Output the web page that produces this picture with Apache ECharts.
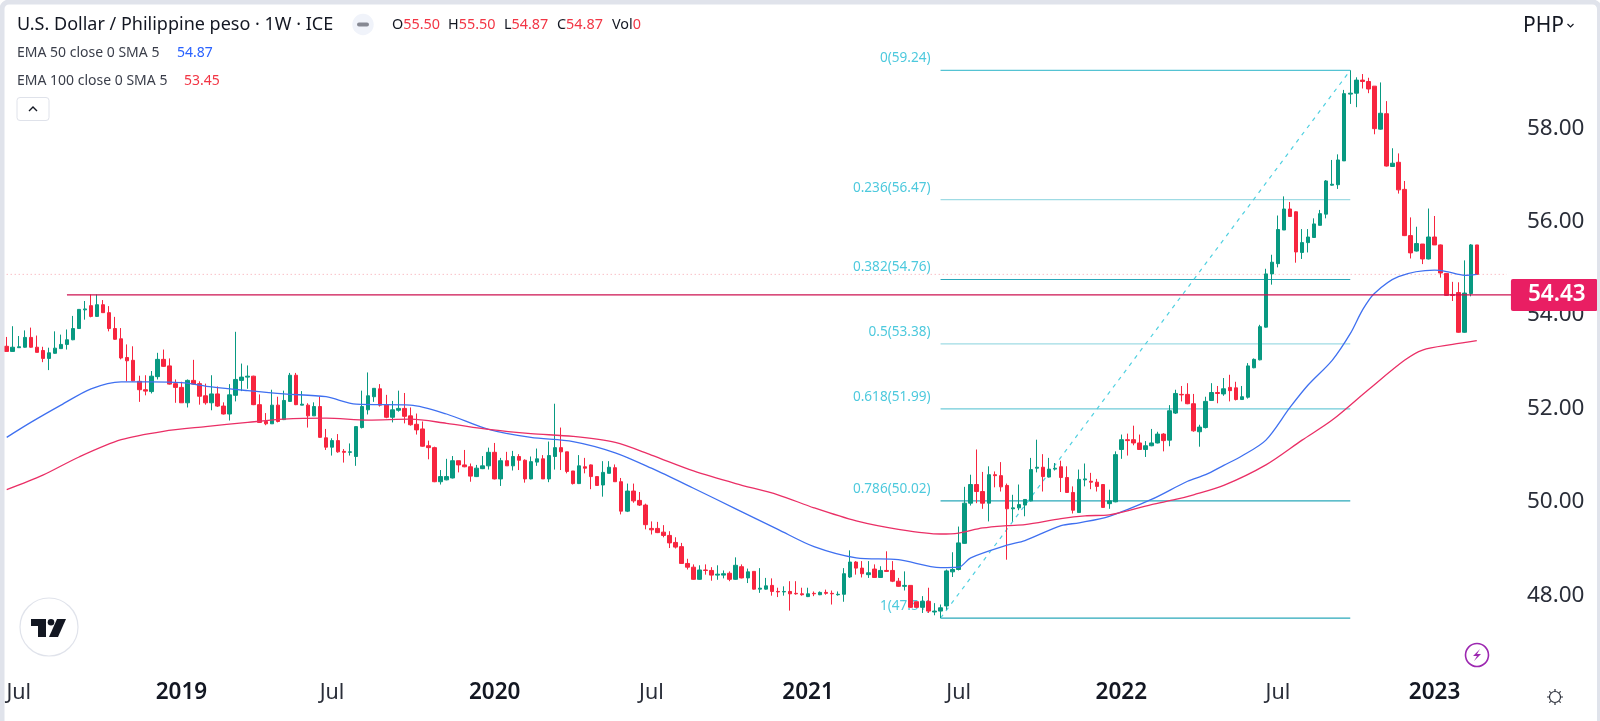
<!DOCTYPE html>
<html>
<head>
<meta charset="utf-8">
<style>html,body{margin:0;padding:0;background:#fff;overflow:hidden}#c{width:1600px;height:721px}</style>
<script src="https://cdn.jsdelivr.net/npm/echarts@6/dist/echarts.min.js"></script>
</head>
<body>
<div id="c"></div>
<script>
const open = [
53.33,53.22,53.30,53.31,53.52,53.31,53.24,53.07,53.18,53.28,
53.37,53.47,53.71,54.11,54.20,53.97,54.22,54.05,53.71,53.49,
53.09,53.03,52.58,52.40,52.36,52.68,53.05,52.91,52.53,52.45,
52.12,52.60,52.53,52.27,52.12,52.31,52.05,51.88,52.28,52.60,
52.67,52.69,52.08,51.72,51.67,52.07,51.76,52.15,52.71,52.07,
52.07,51.84,52.04,51.37,51.17,51.31,51.08,51.06,50.97,51.59,
51.97,52.25,52.42,52.08,51.81,51.96,52.00,51.84,51.66,51.56,
51.20,51.16,50.43,50.47,50.51,50.88,50.79,50.75,50.54,50.71,
50.77,51.06,50.49,50.88,50.77,50.97,50.89,50.49,50.85,50.92,
50.49,50.97,51.16,51.07,50.66,50.39,50.75,50.79,50.54,50.36,
50.61,50.73,50.43,49.80,50.23,50.03,49.93,49.43,49.43,49.35,
49.28,49.13,49.04,48.68,48.60,48.34,48.54,48.53,48.43,48.43,
48.47,48.34,48.61,48.37,48.51,48.13,48.13,48.21,48.08,48.07,
48.08,48.04,48.03,47.97,48.04,48.01,48.06,48.04,48.01,48.02,
48.39,48.71,48.58,48.44,48.56,48.38,48.53,48.53,48.30,48.19,
48.21,47.86,47.74,47.87,47.64,47.66,47.77,48.50,48.55,49.11,
49.97,50.37,50.22,49.97,50.58,50.56,50.35,49.85,49.87,49.93,
50.02,50.72,50.74,50.53,50.70,50.75,50.52,50.20,49.77,50.47,
50.44,50.42,50.37,49.96,50.00,51.12,51.33,51.33,51.26,51.12,
51.20,51.26,51.45,51.32,51.90,52.30,52.30,52.10,51.50,51.59,
52.17,52.34,52.31,52.45,52.44,52.19,52.24,52.87,53.04,53.74,
54.88,55.10,55.82,56.27,56.21,55.34,55.55,55.66,55.92,56.16,
56.78,56.79,57.30,58.73,58.75,59.03,59.00,58.90,57.98,58.31,
57.18,57.27,56.69,55.70,55.37,55.52,55.20,55.67,55.50,54.89,
54.44,54.48,53.63,54.46,55.50];
const close = [
53.22,53.31,53.32,53.52,53.31,53.20,53.07,53.19,53.29,53.37,
53.47,53.71,54.12,54.13,53.97,54.22,54.05,53.71,53.48,53.08,
53.02,52.59,52.40,52.37,52.69,53.05,52.90,52.52,52.45,52.12,
52.60,52.52,52.26,52.12,52.31,52.05,51.88,52.29,52.62,52.67,
52.69,52.08,51.70,51.67,52.07,51.72,52.17,52.71,52.08,52.09,
51.84,52.04,51.38,51.17,51.31,51.07,51.06,51.07,51.61,52.04,
52.27,52.43,52.07,51.81,51.97,52.00,51.83,51.65,51.54,51.19,
51.16,50.43,50.54,50.54,50.88,50.79,50.75,50.55,50.72,50.77,
51.06,50.49,50.88,50.77,50.97,50.89,50.49,50.86,50.92,50.49,
50.99,51.16,51.07,50.65,50.39,50.77,50.72,50.54,50.35,50.63,
50.74,50.43,49.80,50.23,50.02,49.93,49.51,49.40,49.34,49.28,
49.12,49.03,48.68,48.60,48.34,48.54,48.53,48.43,48.45,48.46,
48.34,48.64,48.37,48.50,48.13,48.15,48.20,48.08,48.07,48.08,
48.03,48.03,48.01,48.03,48.03,48.06,48.04,48.03,48.02,48.46,
48.71,48.58,48.46,48.48,48.38,48.53,48.51,48.30,48.19,48.21,
47.74,47.74,47.87,47.66,47.66,47.73,48.52,48.55,49.12,49.97,
50.37,50.22,49.97,50.58,50.56,50.32,49.85,49.87,49.94,50.05,
50.69,50.74,50.54,50.70,50.72,50.52,50.20,49.82,50.48,50.49,
50.42,50.33,49.88,50.02,51.01,51.33,51.31,51.26,51.12,51.20,
51.26,51.45,51.31,51.95,52.32,52.29,52.10,51.52,51.60,52.15,
52.34,52.32,52.42,52.38,52.19,52.25,52.91,53.05,53.75,54.88,
55.13,55.83,56.27,56.11,55.35,55.55,55.67,55.95,56.17,56.87,
56.80,57.32,58.74,58.75,59.03,59.00,58.84,57.99,58.32,57.19,
57.25,56.68,55.70,55.33,55.53,55.20,55.67,55.50,54.90,54.42,
54.42,53.63,54.47,55.50,54.87];
const high = [
53.53,53.76,53.55,53.67,53.73,53.56,53.32,53.30,53.65,53.58,
53.69,53.98,54.12,54.30,54.44,54.44,54.32,54.19,53.96,53.72,
53.37,53.33,52.70,52.71,52.80,53.19,53.26,53.07,52.62,52.57,
52.62,53.04,52.58,52.53,52.71,52.47,52.13,52.52,53.64,52.96,
52.92,52.70,52.30,51.90,52.40,52.25,52.38,52.76,52.76,52.37,
52.11,52.13,52.25,51.56,51.36,51.45,51.13,51.25,51.61,52.38,
52.77,52.43,52.52,52.29,52.16,52.38,52.33,52.02,51.89,51.72,
51.31,51.18,50.68,50.92,50.98,50.88,51.11,50.82,50.79,50.98,
51.16,51.26,50.94,51.07,51.09,51.02,50.91,50.97,51.14,51.00,
51.29,52.10,51.59,51.07,50.66,51.00,50.94,50.80,50.54,50.87,
50.87,50.80,50.51,50.39,50.39,50.21,49.96,49.58,49.57,49.50,
49.37,49.24,49.12,48.78,48.66,48.64,48.66,48.60,48.64,48.53,
48.51,48.81,48.66,48.57,48.51,48.58,48.37,48.36,48.16,48.19,
48.30,48.30,48.16,48.16,48.08,48.08,48.12,48.10,48.08,48.58,
48.96,48.73,48.73,48.73,48.66,48.62,48.94,48.73,48.37,48.51,
48.21,47.86,47.98,48.16,47.83,47.80,48.55,48.92,49.47,50.32,
50.58,51.12,50.64,50.76,50.65,50.85,50.39,50.15,50.37,50.05,
50.94,51.33,51.02,50.94,50.83,50.88,50.76,50.33,50.69,50.82,
50.62,50.49,50.38,50.26,51.08,51.44,51.46,51.63,51.44,51.30,
51.56,51.50,51.47,52.07,52.40,52.48,52.54,52.31,51.65,52.25,
52.54,52.48,52.65,52.72,52.57,52.48,52.97,53.07,53.79,54.99,
55.29,56.13,56.54,56.42,56.22,55.84,55.84,56.07,56.25,56.89,
57.32,57.44,58.82,59.24,59.09,59.16,59.08,58.90,58.98,58.58,
57.57,57.46,56.87,56.09,55.89,55.52,56.28,56.12,55.51,54.89,
54.71,54.70,55.17,55.52,55.50];
const low = [
53.22,53.22,53.30,53.30,53.30,53.20,52.99,52.82,53.17,53.28,
53.26,53.46,53.70,53.90,53.95,53.96,54.05,53.65,53.47,53.05,
52.58,52.58,52.14,52.28,52.32,52.62,52.89,52.51,52.12,52.12,
52.02,52.51,52.08,52.08,51.96,52.03,51.87,51.74,52.15,52.37,
52.42,52.07,51.69,51.64,51.67,51.70,51.75,52.14,52.07,52.07,
51.59,51.84,51.37,51.11,50.99,51.05,50.84,50.99,50.77,51.57,
51.87,52.14,52.04,51.79,51.70,51.93,51.68,51.63,51.44,51.18,
50.91,50.42,50.37,50.46,50.50,50.63,50.74,50.43,50.53,50.70,
50.69,50.48,50.34,50.77,50.67,50.68,50.41,50.48,50.77,50.49,
50.42,50.69,50.68,50.61,50.37,50.38,50.61,50.27,50.34,50.11,
50.61,50.43,49.73,49.78,49.98,49.91,49.41,49.30,49.33,49.24,
49.01,49.00,48.67,48.55,48.33,48.33,48.44,48.31,48.33,48.36,
48.30,48.33,48.36,48.26,48.12,48.05,48.12,47.99,47.96,47.99,
47.67,48.01,47.99,47.96,47.98,48.00,48.01,47.80,47.99,47.86,
48.37,48.44,48.38,48.37,48.37,48.37,48.50,48.28,48.18,48.10,
47.73,47.73,47.62,47.62,47.57,47.51,47.69,48.39,48.53,49.10,
49.92,49.97,49.85,49.58,50.31,50.22,48.76,49.58,49.82,49.69,
50.01,50.63,50.22,50.52,50.67,50.21,50.20,49.75,49.77,50.33,
50.27,50.22,49.87,49.85,49.99,50.92,50.99,51.21,51.11,50.96,
51.19,51.25,51.08,51.19,51.88,52.15,52.09,51.50,51.18,51.57,
52.17,52.11,52.27,52.15,52.17,52.18,52.21,52.86,53.03,53.73,
54.65,55.02,55.82,56.10,55.12,55.20,55.34,55.65,55.92,56.07,
56.77,56.70,57.30,58.52,58.45,58.85,58.75,57.87,57.97,57.18,
57.17,56.60,55.69,55.21,55.36,55.09,55.19,55.50,54.80,54.41,
54.30,53.62,53.62,54.40,54.87];

const ema50 = [[0,51.38],[4,51.70],[9,52.07],[14,52.42],[19,52.57],[24,52.57],[29,52.55],[34,52.46],[40,52.38],[46,52.31],[53,52.25],[58,52.09],[67,52.07],[73,51.88],[80,51.55],[87,51.38],[94,51.29],[101,51.05],[107,50.72],[114,50.29],[121,49.85],[128,49.41],[134,49.04],[141,48.80],[148,48.76],[155,48.59],[158,48.60],[160,48.80],[166,49.07],[169,49.17],[175,49.49],[178,49.55],[183,49.69],[190,50.05],[196,50.44],[199,50.58],[202,50.78],[205,50.98],[209,51.32],[213,52.02],[216,52.50],[220,53.03],[223,53.60],[225,54.10],[227,54.46],[231,54.82],[237,54.96],[239,54.93],[242,54.85],[244,54.87]];
const ema100 = [[0,50.26],[6,50.57],[12,50.96],[19,51.33],[26,51.51],[33,51.61],[40,51.70],[46,51.77],[53,51.79],[60,51.75],[67,51.77],[73,51.68],[80,51.55],[87,51.46],[94,51.40],[101,51.27],[107,51.00],[114,50.66],[121,50.39],[128,50.15],[134,49.87],[141,49.59],[148,49.41],[155,49.31],[158,49.33],[162,49.44],[166,49.49],[169,49.51],[175,49.64],[179,49.70],[183,49.72],[190,49.94],[194,50.05],[197,50.15],[202,50.35],[209,50.79],[215,51.32],[220,51.75],[226,52.40],[232,53.03],[235,53.25],[240,53.37],[244,53.45]];

const fibRatios = ['0','0.236','0.382','0.5','0.618','0.786','1'];
const fibValues = [59.24,56.47,54.76,53.38,51.99,50.02,47.51];
const fibColors = ['#55c3d3','#9fdbe4','#2aa8ba','#9fdbe4','#6fcbd9','#2aa8ba','#2aa8ba'];
const fibStart = 155, fibEnd = 223;
const levelPrice = 54.43, levelStart = 10;
const lastPrice = 54.87;
const slotCount = 251;
const tickIndex = [2,29,54,81,107,133,158,185,211,237];
const tickLabels = ['Jul','2019','Jul','2020','Jul','2021','Jul','2022','Jul','2023'];
const yTicks = {min:46,max:60,interval:2};

const UI = '"Noto Sans", sans-serif';
const INK = '#131722';
const categories = Array.from({length:slotCount},(_,i)=>String(i));
const candles = open.map((o,i)=>[o,close[i],low[i],high[i]]);
const tickMap = {}; tickIndex.forEach((t,i)=>tickMap[t]=tickLabels[i]);

const series = [];
series.push({type:'line',name:'last',data:[[0,lastPrice],[slotCount-2,lastPrice]],showSymbol:false,z:1,silent:true,
  lineStyle:{color:'#f7a3ad',width:1,type:[1,3]}});
fibValues.forEach((v,i)=>{
  series.push({type:'line',name:'fib'+fibRatios[i],data:[[fibStart,v],[fibEnd,v]],showSymbol:false,z:1,silent:true,
    lineStyle:{color:fibColors[i],width:1.2}});
});
series.push({type:'scatter',name:'fibLabels',z:1,silent:true,symbolSize:0,
  data:fibValues.map(v=>[fibStart,v]),
  label:{show:true,position:'left',distance:0,offset:[-10,-12],color:'#20bcd4',fontSize:13.6,fontFamily:UI,
    formatter:p=>fibRatios[p.dataIndex]+'('+fibValues[p.dataIndex].toFixed(2)+')'}});
series.push({type:'line',name:'trend',data:[[fibStart,fibValues[6]],[fibEnd,fibValues[0]]],showSymbol:false,z:1,silent:true,
  lineStyle:{color:'#4fd0e0',width:1.2,type:[4,5]}});
series.push({type:'candlestick',name:'USDPHP',data:candles,barWidth:4,z:3,silent:true,
  itemStyle:{color:'#089981',color0:'#f7253f',borderColor:'#089981',borderColor0:'#f7253f',borderWidth:1}});
series.push({type:'line',name:'EMA 50',data:ema50,showSymbol:false,z:4,silent:true,smooth:0.3,lineStyle:{color:'#3f70f0',width:1.3}});
series.push({type:'line',name:'EMA 100',data:ema100,showSymbol:false,z:4,silent:true,smooth:0.3,lineStyle:{color:'#ea2f66',width:1.3}});
series.push({type:'line',name:'level',data:[[levelStart,levelPrice],[slotCount-1,levelPrice]],showSymbol:false,z:5,silent:true,
  lineStyle:{color:'#cc1250',width:1.2},
  endLabel:{show:true,formatter:levelPrice.toFixed(2),color:'#fff',backgroundColor:'#e91e63',fontFamily:UI,fontSize:22.5,fontWeight:600,
    lineHeight:22,padding:[5,12,5,17],distance:0,offset:[-2,0],align:'left',borderRadius:2}});

function t(x,y,text,style){return {type:'text',x,y,z:50,silent:true,style:Object.assign({text,fontFamily:UI,fill:INK,fontSize:14,verticalAlign:'middle'},style||{})};}
const ohlcRich = {l:{fill:INK,fontFamily:UI,fontSize:14.4},v:{fill:'#f23645',fontFamily:UI,fontSize:14.4}};
function ohlc(x,k,v){return {type:'text',x,y:25,z:50,silent:true,style:{text:'{l|'+k+'}{v|'+v+'}',verticalAlign:'middle',rich:ohlcRich}};}
function ray(x1,y1,x2,y2){return {type:'line',z:51,silent:true,shape:{x1,y1,x2,y2},style:{stroke:'#2a2e39',lineWidth:1.2}};}
const graphics = [
  {type:'rect',z:60,silent:true,shape:{x:2,y:2,width:1597.5,height:800,r:7},style:{fill:'none',stroke:'#e0e3eb',lineWidth:5}},
  t(17,25,'U.S. Dollar / Philippine peso · 1W · ICE',{fontSize:18}),
  {type:'circle',z:50,silent:true,shape:{cx:363,cy:24.5,r:10.7},style:{fill:'#f0f3fa'}},
  {type:'rect',z:51,silent:true,shape:{x:357,y:22.5,width:12,height:4,r:2},style:{fill:'#868993'}},
  ohlc(392,'O','55.50'),ohlc(448,'H','55.50'),ohlc(504,'L','54.87'),ohlc(557,'C','54.87'),ohlc(612,'Vol','0'),
  t(17,53,'EMA 50 close 0 SMA 5',{fontSize:14,fill:'#3a3e4a'}),
  t(177,53,'54.87',{fontSize:14,fill:'#2962ff'}),
  t(17,81,'EMA 100 close 0 SMA 5',{fontSize:14,fill:'#3a3e4a'}),
  t(184,81,'53.45',{fontSize:14,fill:'#f23645'}),
  {type:'rect',z:50,silent:true,shape:{x:17,y:97.5,width:32,height:23,r:3},style:{fill:'#fff',stroke:'#dfe2ea',lineWidth:1}},
  {type:'polyline',z:51,silent:true,shape:{points:[[29,111],[33,107],[37,111]]},style:{fill:'none',stroke:INK,lineWidth:1.4}},
  t(1523,26,'PHP',{fontSize:21}),
  {type:'polyline',z:51,silent:true,shape:{points:[[1567.5,24],[1570.5,27],[1573.5,24]]},style:{fill:'none',stroke:INK,lineWidth:1.2}},
  {type:'circle',z:50,silent:true,shape:{cx:49,cy:627,r:29},style:{fill:'#fff',stroke:'#e0e3eb',lineWidth:1.2}},
  {type:'polygon',z:51,silent:true,shape:{points:[[31,619],[46,619],[46,637],[38,637],[38,626],[31,626]]},style:{fill:INK}},
  {type:'polygon',z:51,silent:true,shape:{points:[[57,619],[66,619],[58,637],[49,637]]},style:{fill:INK}},
  {type:'circle',z:51,silent:true,shape:{cx:51,cy:622.3,r:3.3},style:{fill:INK}},
  {type:'circle',z:50,silent:true,shape:{cx:1477,cy:655,r:11.5},style:{fill:'#fff',stroke:'#9c27b0',lineWidth:1.6}},
  {type:'polygon',z:51,silent:true,shape:{points:[[1480,649],[1473,656],[1477,656],[1474,661],[1481,654],[1477,654]]},style:{fill:'#9c27b0'}},
  {type:'circle',z:50,silent:true,shape:{cx:1555,cy:697,r:5.5},style:{fill:'#fff',stroke:'#2a2e39',lineWidth:1.2}},
  ray(1555,689,1555,691),ray(1555,703,1555,705),ray(1547,697,1549,697),ray(1561,697,1563,697),
  ray(1549.3,691.3,1550.7,692.7),ray(1559.3,701.3,1560.7,702.7),ray(1549.3,702.7,1550.7,701.3),ray(1559.3,692.7,1560.7,691.3)
];

const chart = echarts.init(document.getElementById('c'),null,{renderer:'canvas'});
chart.setOption({
  animation:false,
  backgroundColor:'#fff',
  grid:{left:3.69,right:84.06,top:34.8,bottom:32.4,containLabel:false},
  xAxis:{type:'category',data:categories,boundaryGap:true,
    axisLine:{show:false},axisTick:{show:false},splitLine:{show:false},
    axisLabel:{interval:(i)=>tickMap[i]!==undefined,hideOverlap:false,margin:4,verticalAlign:'middle',
      formatter:(v,i)=>{const s=tickMap[i];return s===undefined?'':(s==='Jul'?'{m|'+s+'}':'{y|'+s+'}');},
      rich:{m:{fontFamily:UI,fontSize:21.5,color:'#2a2e39'},y:{fontFamily:UI,fontSize:22.5,fontWeight:600,color:INK}}}},
  yAxis:{type:'value',position:'right',min:yTicks.min,max:yTicks.max,interval:yTicks.interval,
    axisLine:{show:false},axisTick:{show:false},splitLine:{show:false},
    axisLabel:{showMinLabel:false,showMaxLabel:false,margin:11,color:'#2a2e39',fontFamily:UI,fontSize:22.5,formatter:v=>v.toFixed(2)}},
  series,
  graphic:graphics
});
</script>
</body>
</html>
